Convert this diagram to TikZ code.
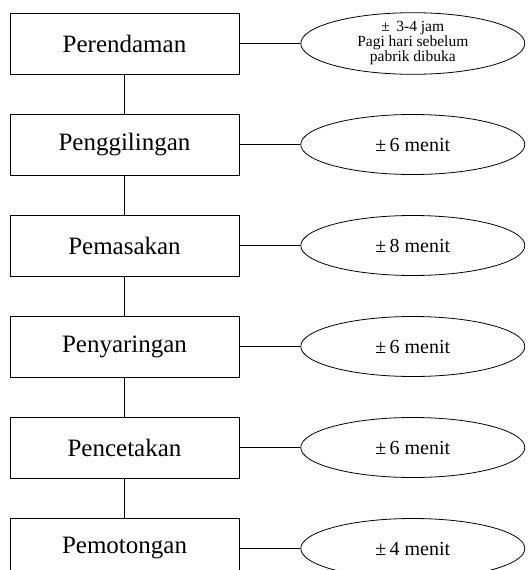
\documentclass[tikz,border=0pt]{standalone}
\usepackage{fontspec}
\setmainfont{Liberation Serif}
\usetikzlibrary{positioning,shapes.geometric}

\begin{document}
\begin{tikzpicture}[x=1pt, y=1pt,
    langkah/.style={draw, line width=0.8pt, minimum width=229pt, minimum height=61pt, inner sep=0pt, font=\fontsize{25}{30}\selectfont},
    waktu/.style={draw, ellipse, line width=0.8pt, minimum width=224pt, minimum height=60pt, inner sep=0pt, align=center, font=\fontsize{20}{24}\selectfont},
    node distance=39.2pt and 61pt]
        \useasboundingbox (0,0) rectangle (532,-570);
        \node[langkah] (rendam) at (124.5,-43.5) {Perendaman};
        \node[langkah, below=of rendam] (giling) {Penggilingan};
        \node[langkah, below=of giling] (masak) {Pemasakan};
        \node[langkah, below=of masak] (saring) {Penyaringan};
        \node[langkah, below=of saring] (cetak) {Pencetakan};
        \node[langkah, below=of cetak] (potong) {Pemotongan};
        \node[waktu, right=of rendam, font=\fontsize{15.5}{15}\selectfont] (wrendam) {±\, 3-4 jam\\Pagi hari sebelum\\pabrik dibuka};
        \node[waktu, right=of giling] (wgiling) {±\,6 menit};
        \node[waktu, right=of masak] (wmasak) {±\,8 menit};
        \node[waktu, right=of saring] (wsaring) {±\,6 menit};
        \node[waktu, right=of cetak] (wcetak) {±\,6 menit};
        \node[waktu, right=of potong] (wpotong) {±\,4 menit};
        \draw[line width=0.8pt] (rendam) -- (giling);
        \draw[line width=0.8pt] (giling) -- (masak);
        \draw[line width=0.8pt] (masak) -- (saring);
        \draw[line width=0.8pt] (saring) -- (cetak);
        \draw[line width=0.8pt] (cetak) -- (potong);
        \draw[line width=0.8pt] (rendam) -- (wrendam);
        \draw[line width=0.8pt] (giling) -- (wgiling);
        \draw[line width=0.8pt] (masak) -- (wmasak);
        \draw[line width=0.8pt] (saring) -- (wsaring);
        \draw[line width=0.8pt] (cetak) -- (wcetak);
        \draw[line width=0.8pt] (potong) -- (wpotong);
\end{tikzpicture}
\end{document}
